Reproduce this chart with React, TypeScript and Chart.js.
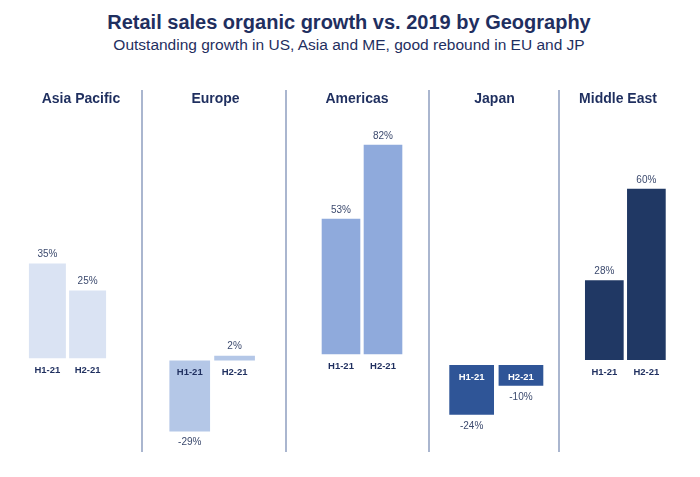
import React, { useEffect, useRef } from "react";
import { Chart, registerables } from "chart.js";

Chart.register(...registerables);

// ---- data ----
const MAIN_TITLE = "Retail sales organic growth vs. 2019 by Geography";
const SUB_TITLE = "Outstanding growth in US, Asia and ME, good rebound in EU and JP";
const REGIONS = ["Asia Pacific", "Europe", "Americas", "Japan", "Middle East"];
const PERIODS = ["H1-21", "H2-21"];
const ASIA_PACIFIC = [35, 25];
const EUROPE = [-29, 2];
const AMERICAS = [53, 82];
const JAPAN = [-24, -10];
const MIDDLE_EAST = [28, 60];
const REGION_VALUES = [ASIA_PACIFIC, EUROPE, AMERICAS, JAPAN, MIDDLE_EAST];
// per-panel axis ranges (each panel has its own scale)
const AXIS_MIN = [-33.8, -36.5, -37.5, -40.9, -31.5];
const AXIS_MAX = [84.2, 94.1, 87.8, 113.0, 80.6];

// ---- styles / layout ----
const BAR_COLORS = ["#dae3f3", "#b4c7e7", "#8faadc", "#2f5597", "#203864"];
const DARK_PANEL = [false, false, false, true, true];
const NAVY = "#1f2f5f";
const VALUE_COLOR = "#3c4a6e";
const DIVIDER_COLOR = "#aab6cf";
const FONT = '"Liberation Sans", Arial, sans-serif';
const CANVAS_TOP = 85;
const CANVAS_H = 380;
const PANELS = [
  { left: 0, width: 142, padL: 27.3, padR: 34.3, titleX: 81, barPct: 0.92 },
  { left: 143, width: 143, padL: 24.3, padR: 29, titleX: 72.5, barPct: 0.907 },
  { left: 288, width: 141, padL: 32, padR: 25, titleX: 69, barPct: 0.92 },
  { left: 430, width: 129, padL: 17, padR: 13.4, titleX: 64.5, barPct: 0.907 },
  { left: 561, width: 139, padL: 22.3, padR: 32.6, titleX: 57, barPct: 0.92 },
];
const DIVIDERS_X = [142, 286, 429, 559];

const labelPlugin = {
  id: "panelLabels",
  afterDatasetsDraw(chart: any, _args: any, opts: any) {
    const { ctx } = chart;
    const meta = chart.getDatasetMeta(0);
    const y0 = chart.scales.y.getPixelForValue(0);
    const data = chart.data.datasets[0].data as number[];
    ctx.save();
    ctx.textAlign = "center";
    ctx.textBaseline = "middle";
    meta.data.forEach((bar: any, i: number) => {
      const v = data[i];
      ctx.font = `10px ${FONT}`;
      ctx.fillStyle = VALUE_COLOR;
      const ly = v >= 0 ? bar.y - 9 : bar.y + 11;
      ctx.fillText(`${v}%`, bar.x, ly);
      ctx.font = `bold 9.5px ${FONT}`;
      ctx.fillStyle = v < 0 && opts.dark ? "#ffffff" : NAVY;
      ctx.fillText(chart.data.labels[i], bar.x, y0 + 12);
    });
    ctx.font = `bold 14px ${FONT}`;
    ctx.fillStyle = NAVY;
    ctx.fillText(opts.title, opts.titleX, 14);
    ctx.restore();
  },
};

function Panel({ idx }: { idx: number }) {
  const ref = useRef<HTMLCanvasElement | null>(null);
  const p = PANELS[idx];
  useEffect(() => {
    if (!ref.current) return;
    const chart = new Chart(ref.current, {
      type: "bar",
      data: {
        labels: PERIODS,
        datasets: [
          {
            data: REGION_VALUES[idx],
            backgroundColor: BAR_COLORS[idx],
            borderWidth: 0,
            barPercentage: p.barPct,
            categoryPercentage: 1,
          },
        ],
      },
      options: {
        responsive: false,
        maintainAspectRatio: false,
        animation: false,
        devicePixelRatio: 1,
        layout: {
          padding: {
            left: p.padL,
            right: p.padR,
            top: 130 - CANVAS_TOP,
            bottom: CANVAS_TOP + CANVAS_H - 450,
          },
        },
        scales: {
          x: { display: false, grid: { display: false } },
          y: {
            display: false,
            min: AXIS_MIN[idx],
            max: AXIS_MAX[idx],
            grid: { display: false },
          },
        },
        plugins: {
          legend: { display: false },
          tooltip: { enabled: false },
          panelLabels: {
            title: REGIONS[idx],
            titleX: p.titleX,
            dark: DARK_PANEL[idx],
          },
        } as any,
      },
      plugins: [labelPlugin],
    });
    return () => chart.destroy();
  }, [idx]);
  return (
    <canvas
      ref={ref}
      width={p.width}
      height={CANVAS_H}
      style={{
        position: "absolute",
        left: p.left,
        top: CANVAS_TOP,
        width: p.width,
        height: CANVAS_H,
      }}
    />
  );
}

export default function App() {
  return (
    <div
      style={{
        position: "absolute",
        left: 0,
        top: 0,
        width: 700,
        height: 477,
        background: "#ffffff",
        fontFamily: FONT,
        overflow: "hidden",
      }}
    >
      <div
        style={{
          position: "absolute",
          left: 0,
          width: 698,
          top: 10,
          textAlign: "center",
          fontWeight: "bold",
          fontSize: 20,
          lineHeight: "24px",
          color: NAVY,
        }}
      >
        {MAIN_TITLE}
      </div>
      <div
        style={{
          position: "absolute",
          left: 0,
          width: 698,
          top: 35.5,
          textAlign: "center",
          fontSize: 15.5,
          lineHeight: "18px",
          color: NAVY,
        }}
      >
        {SUB_TITLE}
      </div>
      {DIVIDERS_X.map((x, i) => (
        <div
          key={i}
          style={{
            position: "absolute",
            left: x - 1,
            top: 90,
            width: 2,
            height: 362,
            background: DIVIDER_COLOR,
          }}
        />
      ))}
      {REGIONS.map((_, i) => (
        <Panel key={i} idx={i} />
      ))}
    </div>
  );
}
